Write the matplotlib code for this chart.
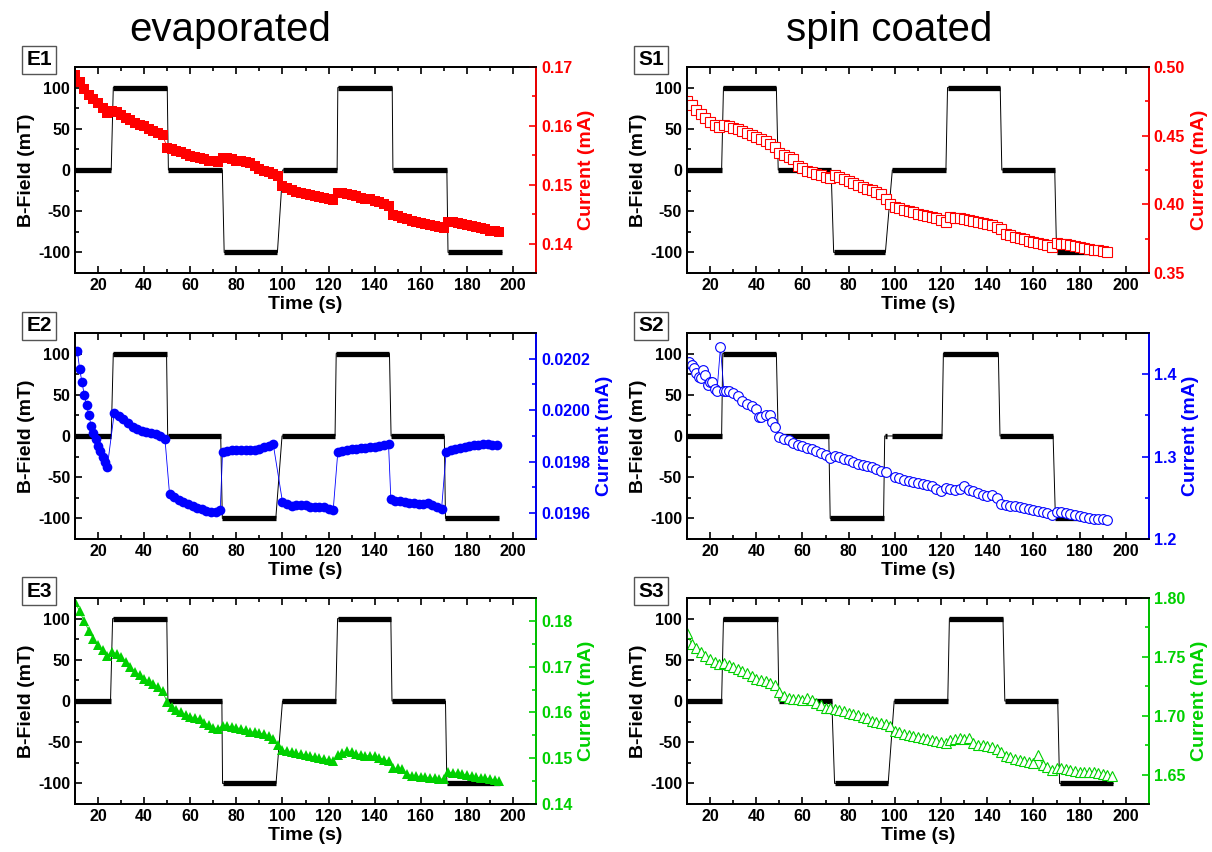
import matplotlib
matplotlib.use("Agg")
import matplotlib.pyplot as plt
from matplotlib.ticker import MultipleLocator, FormatStrFormatter

plt.rcParams['font.family'] = ['Liberation Sans', 'DejaVu Sans']
plt.rcParams['axes.unicode_minus'] = False

# common time grid (s) used by the densely sampled series
t_grid = [10, 12, 14, 16, 18, 20, 22, 24, 26, 28, 30, 32, 34, 36, 38, 40, 42, 44, 46, 48,
          50, 52, 54, 56, 58, 60, 62, 64, 66, 68, 70, 72, 74, 76, 78, 80, 82, 84, 86, 88,
          90, 92, 94, 96, 98, 100, 102, 104, 106, 108, 110, 112, 114, 116, 118, 120, 122,
          124, 126, 128, 130, 132, 134, 136, 138, 140, 142, 144, 146, 148, 150, 152, 154,
          156, 158, 160, 162, 164, 166, 168, 170, 172, 174, 176, 178, 180, 182, 184, 186,
          188, 190, 192, 194]

# B-field plateaus: (start, end, level in mT)
field_e1 = [(10, 25.7, 0), (26.6, 50.0, 100), (50.5, 73.9, 0), (74.7, 97.8, -100),
            (100.1, 123.7, 0), (124.0, 147.6, 100), (147.9, 171.3, 0), (171.8, 195.2, -100)]
field_e2 = [(10, 25.7, 0), (26.6, 49.7, 100), (50.2, 73.2, 0), (73.9, 97.1, -100),
            (99.8, 122.8, 0), (123.3, 146.4, 100), (147.1, 170.2, 0), (170.7, 193.8, -100)]
field_e3 = [(10, 25.4, 0), (26.3, 49.8, 100), (50.3, 73.7, 0), (74.0, 97.2, -100),
            (100.0, 123.1, 0), (123.9, 147.0, 100), (147.5, 170.7, 0), (171.3, 194.4, -100)]
field_s1 = [(10, 25.0, 0), (25.8, 48.7, 100), (49.5, 72.4, 0), (73.5, 95.9, -100),
            (98.9, 122.1, 0), (122.8, 145.6, 100), (146.3, 169.2, 0), (170.0, 192.0, -100)]
field_s2 = [(10, 25.0, 0), (25.5, 48.7, 100), (49.5, 71.4, 0), (72.0, 95.1, -100),
            (95.6, 96.4, 0), (98.9, 120.4, 0), (121.0, 144.8, 100), (145.5, 168.5, 0),
            (169.5, 192.0, -100)]
field_s3 = [(10, 25.0, 0), (25.8, 49.2, 100), (49.8, 72.7, 0), (73.9, 97.1, -100),
            (99.7, 122.9, 0), (123.6, 146.8, 100), (147.6, 170.5, 0), (171.3, 194.5, -100)]

# currents (mA)
cur_e1 = [0.1686, 0.1675, 0.1663, 0.1653, 0.1645, 0.1638, 0.1630, 0.1621,
          0.1626, 0.1624, 0.1619, 0.1614, 0.1610, 0.1605, 0.1602, 0.1599, 0.1595, 0.1591, 0.1588, 0.1584,
          0.1563, 0.1560, 0.1557, 0.1555, 0.1552, 0.1549, 0.1547, 0.1545, 0.1543, 0.1541, 0.1540, 0.1538,
          0.1546, 0.1545, 0.1543, 0.1541, 0.1540, 0.1538, 0.1536, 0.1531, 0.1527, 0.1524, 0.1521, 0.1519, 0.1515,
          0.1497, 0.1494, 0.1491, 0.1488, 0.1486, 0.1484, 0.1482, 0.1481, 0.1479, 0.1477, 0.1476, 0.1474,
          0.1486, 0.1486, 0.1484, 0.1482, 0.1480, 0.1478, 0.1476, 0.1475, 0.1472, 0.1470, 0.1467, 0.1464,
          0.1448, 0.1446, 0.1444, 0.1441, 0.1439, 0.1437, 0.1435, 0.1433, 0.1432, 0.1430, 0.1428, 0.1427,
          0.1437, 0.1436, 0.1435, 0.1434, 0.1432, 0.1430, 0.1428, 0.1426, 0.1424, 0.1422, 0.1421, 0.1419]

pts_e2 = [(11, 0.02023), (12, 0.02016), (13, 0.02011), (14, 0.02006), (15, 0.02002), (16, 0.01998),
          (17, 0.01994), (18, 0.01991), (19, 0.01989), (20, 0.01986), (21, 0.01984), (22, 0.01982),
          (23, 0.01980), (24, 0.01978),
          (27, 0.019988), (29, 0.019976), (31, 0.019964), (33, 0.019951), (35, 0.019936), (37, 0.019926),
          (39, 0.019919), (41, 0.019915), (43, 0.019911), (45, 0.019906), (47, 0.019900), (49, 0.019890),
          (51, 0.019675), (53, 0.019662), (55, 0.019653), (57, 0.019645), (59, 0.019637), (61, 0.019629),
          (63, 0.019622), (65, 0.019615), (67, 0.019610), (69, 0.019605), (71, 0.019604), (73, 0.019613),
          (74, 0.019836), (76, 0.019840), (78, 0.019844), (80, 0.019846), (82, 0.019847), (84, 0.019846),
          (86, 0.019845), (88, 0.019845), (90, 0.019850), (92, 0.019858), (94, 0.019862), (96, 0.019867),
          (100, 0.019644), (102, 0.019636), (104, 0.019629), (106, 0.019632), (108, 0.019633), (110, 0.019630),
          (112, 0.019626), (114, 0.019625), (116, 0.019624), (118, 0.019623), (120, 0.019618), (122, 0.019613),
          (124, 0.019838), (126, 0.019843), (128, 0.019847), (130, 0.019849), (132, 0.019851), (134, 0.019853),
          (136, 0.019855), (138, 0.019857), (140, 0.019859), (142, 0.019861), (144, 0.019864), (146, 0.019867),
          (147, 0.019656), (149, 0.019648), (151, 0.019646), (153, 0.019644), (155, 0.019641), (157, 0.019638),
          (159, 0.019636), (161, 0.019637), (163, 0.019638), (165, 0.019632), (167, 0.019624), (169, 0.019616),
          (171, 0.019838), (173, 0.019845), (175, 0.019849), (177, 0.019853), (179, 0.019857), (181, 0.019860),
          (183, 0.019863), (185, 0.019866), (187, 0.019868), (189, 0.019869), (191, 0.019866), (193, 0.019864)]

cur_e3 = [0.1842, 0.1821, 0.1799, 0.1779, 0.1760, 0.1748, 0.1736, 0.1724,
          0.1733, 0.1728, 0.1722, 0.1711, 0.1699, 0.1689, 0.1682, 0.1674, 0.1668, 0.1662, 0.1655, 0.1646,
          0.1622, 0.1613, 0.1606, 0.1600, 0.1595, 0.1591, 0.1588, 0.1585, 0.1578, 0.1572, 0.1567, 0.1564,
          0.1571, 0.1570, 0.1568, 0.1567, 0.1564, 0.1561, 0.1558, 0.1557, 0.1555, 0.1552, 0.1549, 0.1543, 0.1528,
          0.1518, 0.1515, 0.1513, 0.1511, 0.1509, 0.1507, 0.1505, 0.1503, 0.1501, 0.1498, 0.1496, 0.1494,
          0.1508, 0.1512, 0.1515, 0.1513, 0.1510, 0.1507, 0.1506, 0.1505, 0.1504, 0.1501, 0.1497, 0.1493,
          0.1478, 0.1478, 0.1476, 0.1466, 0.1462, 0.1461, 0.1460, 0.1458, 0.1457, 0.1456, 0.1455, 0.1454,
          0.1469, 0.1468, 0.1467, 0.1465, 0.1463, 0.1461, 0.1459, 0.1457, 0.1456, 0.1455, 0.1453, 0.1450]

cur_s1 = [0.4750, 0.4722, 0.4690, 0.4660, 0.4630, 0.4600, 0.4578, 0.4565,
          0.4578, 0.4570, 0.4557, 0.4545, 0.4532, 0.4518, 0.4503, 0.4490, 0.4475, 0.4458, 0.4440, 0.4418,
          0.4375, 0.4358, 0.4343, 0.4330, 0.4280, 0.4262, 0.4245, 0.4232, 0.4223, 0.4212, 0.4201, 0.4192,
          0.4210, 0.4198, 0.4182, 0.4170, 0.4155, 0.4140, 0.4126, 0.4115, 0.4102, 0.4092, 0.4075, 0.4040,
          0.4000, 0.3980, 0.3972, 0.3960, 0.3950, 0.3942, 0.3932, 0.3922, 0.3913, 0.3905, 0.3898, 0.3885, 0.3872,
          0.3905, 0.3902, 0.3898, 0.3890, 0.3883, 0.3876, 0.3870, 0.3862, 0.3855, 0.3847, 0.3835, 0.3822,
          0.3786, 0.3775, 0.3763, 0.3755, 0.3745, 0.3736, 0.3728, 0.3720, 0.3712, 0.3705, 0.3690, 0.3718,
          0.3714, 0.3710, 0.3704, 0.3698, 0.3690, 0.3682, 0.3676, 0.3670, 0.3665, 0.3660, 0.3650]

pts_s2 = [(11, 1.4150), (12, 1.4110), (13, 1.4070), (14, 1.4010), (15, 1.3965), (16, 1.3950), (17, 1.4050),
          (18, 1.3990), (19, 1.3870), (20, 1.3905), (21, 1.3900), (22, 1.3815), (23, 1.3790), (24.5, 1.4330),
          (26, 1.3790), (27, 1.3800), (28, 1.3795), (30, 1.3770), (32, 1.3730), (34, 1.3680), (36, 1.3640),
          (38, 1.3610), (40, 1.3580), (41, 1.3480), (42, 1.3475), (44, 1.3500), (46, 1.3500), (47, 1.3420),
          (48, 1.3360), (50, 1.3240), (52, 1.3215), (54, 1.3200), (56, 1.3160), (58, 1.3140), (60, 1.3125),
          (62, 1.3105), (64, 1.3090), (66, 1.3065), (68, 1.3040), (70, 1.3015), (72, 1.2980), (74, 1.3010),
          (76, 1.2995), (78, 1.2970), (80, 1.2958), (82, 1.2935), (84, 1.2915), (86, 1.2900), (88, 1.2885),
          (90, 1.2870), (92, 1.2850), (94, 1.2830), (96, 1.2815), (100, 1.2755), (102, 1.2740), (104, 1.2720),
          (106, 1.2705), (108, 1.2690), (110, 1.2680), (112, 1.2668), (114, 1.2657), (116, 1.2640), (118, 1.2610),
          (120, 1.2580), (122, 1.2615), (124, 1.2605), (126, 1.2597), (128, 1.2610), (130, 1.2637), (132, 1.2600),
          (134, 1.2577), (136, 1.2555), (138, 1.2530), (140, 1.2520), (142, 1.2536), (144, 1.2500), (146, 1.2420),
          (148, 1.2410), (150, 1.2400), (152, 1.2395), (154, 1.2385), (156, 1.2375), (158, 1.2365), (160, 1.2355),
          (162, 1.2342), (164, 1.2332), (166, 1.2318), (168, 1.2295), (170, 1.2330), (172, 1.2325), (174, 1.2310),
          (176, 1.2300), (178, 1.2290), (180, 1.2282), (182, 1.2268), (184, 1.2256), (186, 1.2248), (188, 1.2244),
          (190, 1.2240), (192, 1.2233)]

cur_s3 = [1.7700, 1.7610, 1.7575, 1.7540, 1.7505, 1.7478, 1.7460, 1.7443,
          1.7447, 1.7432, 1.7416, 1.7398, 1.7380, 1.7360, 1.7335, 1.7316, 1.7305, 1.7294, 1.7280, 1.7262,
          1.7200, 1.7170, 1.7152, 1.7145, 1.7138, 1.7135, 1.7148, 1.7130, 1.7108, 1.7090, 1.7070, 1.7062,
          1.7058, 1.7050, 1.7040, 1.7026, 1.7018, 1.7005, 1.6993, 1.6978, 1.6958, 1.6947, 1.6940, 1.6928, 1.6910,
          1.6868, 1.6860, 1.6848, 1.6838, 1.6830, 1.6820, 1.6810, 1.6803, 1.6795, 1.6785, 1.6777, 1.6768,
          1.6790, 1.6800, 1.6808, 1.6805, 1.6815, 1.6770, 1.6752, 1.6748, 1.6742, 1.6738, 1.6720, 1.6695,
          1.6660, 1.6648, 1.6635, 1.6624, 1.6615, 1.6605, 1.6600, 1.6665, 1.6582, 1.6565, 1.6535, 1.6552,
          1.6555, 1.6548, 1.6538, 1.6533, 1.6525, 1.6518, 1.6520, 1.6525, 1.6512, 1.6505, 1.6495, 1.6485]

RED = '#FF0000'
BLUE = '#0000FF'
GREEN = '#00D000'

fig = plt.figure(figsize=(12.12, 8.52), dpi=100)

col_x = [0.0619, 0.5668]
col_w = [0.3804, 0.3812]
row_y = [0.6796, 0.3674, 0.0563]
row_h = 0.2418


def panel(col, row, name, field, t, cur, color, marker, filled, ylim, yticks, fmt, ms):
    ax = fig.add_axes([col_x[col], row_y[row], col_w[col], row_h])
    # B-field: thin ramps + thick plateaus
    bt, bv = [], []
    for s, e, v in field:
        bt += [s, e]
        bv += [v, v]
    ax.plot(bt, bv, color='k', lw=0.7)
    for s, e, v in field:
        ax.plot([s, e], [v, v], color='k', lw=3.8, solid_capstyle='butt')
    ax.set_xlim(10, 210)
    ax.set_ylim(-125, 125)
    ax.set_yticks([-100, -50, 0, 50, 100])
    ax.xaxis.set_major_locator(MultipleLocator(20))
    ax.xaxis.set_minor_locator(MultipleLocator(10))
    ax.yaxis.set_minor_locator(MultipleLocator(25))
    ax.tick_params(axis='both', which='both', direction='in', labelsize=11.5, width=1.2)
    ax.tick_params(axis='x', which='both', top=True)
    ax.tick_params(axis='y', which='both', right=False)
    ax.tick_params(which='major', length=5)
    ax.tick_params(which='minor', length=3)
    for lab in ax.get_xticklabels() + ax.get_yticklabels():
        lab.set_fontweight('bold')
    ax.set_xlabel('Time (s)', fontsize=14, fontweight='bold', labelpad=2)
    ax.set_ylabel('B-Field (mT)', fontsize=14, fontweight='bold', labelpad=2)
    for sp in ax.spines.values():
        sp.set_linewidth(1.3)

    ax2 = ax.twinx()
    if filled:
        ax2.plot(t, cur, color=color, lw=0.6, marker=marker, ms=ms, mfc=color, mec=color, mew=0)
    else:
        ax2.plot(t, cur, color=color, lw=0.6, marker=marker, ms=ms, mfc='white', mec=color, mew=0.8)
    ax2.set_ylim(*ylim)
    ax2.set_yticks(yticks)
    ax2.yaxis.set_minor_locator(MultipleLocator((yticks[1] - yticks[0]) / 2))
    ax2.yaxis.set_major_formatter(FormatStrFormatter(fmt))
    ax2.tick_params(axis='y', which='both', direction='in', colors=color, labelsize=11.5, width=1.2)
    ax2.tick_params(axis='y', which='major', length=5)
    ax2.tick_params(axis='y', which='minor', length=3)
    for lab in ax2.get_yticklabels():
        lab.set_fontweight('bold')
    ax2.set_ylabel('Current (mA)', fontsize=14, fontweight='bold', color=color, labelpad=4)
    for sp in ax2.spines.values():
        sp.set_linewidth(1.3)
    ax2.spines['right'].set_color(color)

    # panel tag in a box
    fx = col_x[col] - 36 / 1212
    fy = row_y[row] + row_h + 7 / 852
    fig.text(fx, fy, name, fontsize=15, fontweight='bold', ha='center', va='center',
             bbox=dict(boxstyle='square,pad=0.2', fc='white', ec='#555555', lw=1))


t_e2 = [p[0] for p in pts_e2]
c_e2 = [p[1] for p in pts_e2]
t_s2 = [p[0] for p in pts_s2]
c_s2 = [p[1] for p in pts_s2]

panel(0, 0, 'E1', field_e1, t_grid[:len(cur_e1)], cur_e1, RED, 's', True,
      (0.135, 0.17), [0.14, 0.15, 0.16, 0.17], '%.2f', 6.5)
panel(0, 1, 'E2', field_e2, t_e2, c_e2, BLUE, 'o', True,
      (0.0195, 0.0203), [0.0196, 0.0198, 0.0200, 0.0202], '%.4f', 7)
panel(0, 2, 'E3', field_e3, t_grid[:len(cur_e3)], cur_e3, GREEN, '^', True,
      (0.14, 0.185), [0.14, 0.15, 0.16, 0.17, 0.18], '%.2f', 7.5)
panel(1, 0, 'S1', field_s1, t_grid[:len(cur_s1)], cur_s1, RED, 's', False,
      (0.35, 0.50), [0.35, 0.40, 0.45, 0.50], '%.2f', 7)
panel(1, 1, 'S2', field_s2, t_s2, c_s2, BLUE, 'o', False,
      (1.2, 1.45), [1.2, 1.3, 1.4], '%.1f', 7)
panel(1, 2, 'S3', field_s3, t_grid[:len(cur_s3)], cur_s3, GREEN, '^', False,
      (1.625, 1.80), [1.65, 1.70, 1.75, 1.80], '%.2f', 7.5)

fig.text(230 / 1212, 1 - 30 / 852, 'evaporated', fontsize=29, ha='center', va='center')
fig.text(889 / 1212, 1 - 30 / 852, 'spin coated', fontsize=29, ha='center', va='center')

fig.savefig('out.png', dpi=100)
